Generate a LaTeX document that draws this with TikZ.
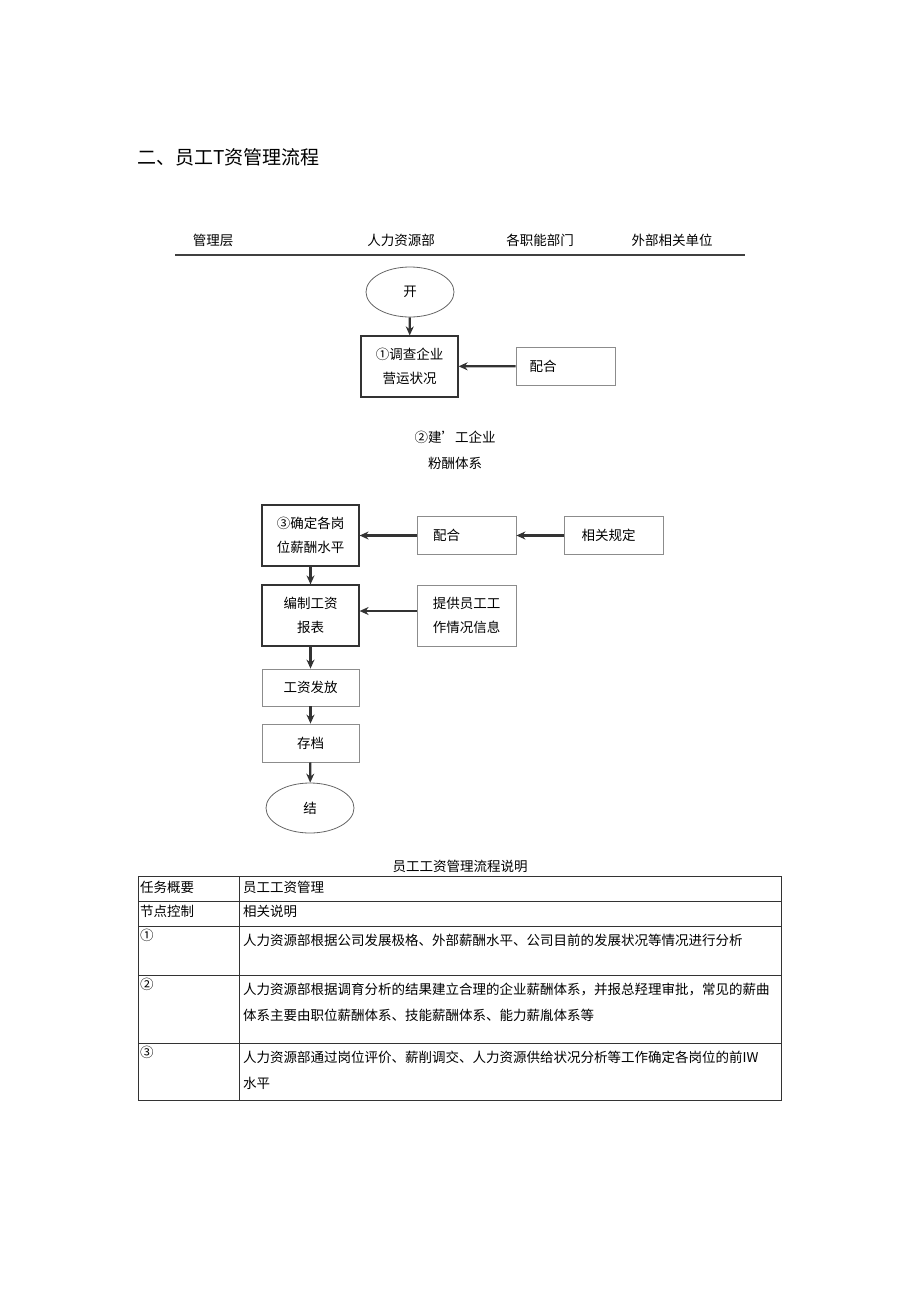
\documentclass[tikz,border=0pt]{standalone}
\usepackage{fontspec}
\setmainfont{Noto Sans CJK SC}
\usetikzlibrary{shapes.geometric,arrows.meta}
\begin{document}
\begin{tikzpicture}[x=1pt,y=-1pt,
  box/.style={draw=black!80,line width=1.2pt,minimum width=97pt,minimum height=61pt,align=center,font=\fontsize{13.5}{24}\selectfont,inner sep=0pt},
  lbox/.style={draw=black!45,line width=0.8pt,minimum width=99pt,minimum height=38pt,align=center,font=\fontsize{13.5}{24}\selectfont,inner sep=0pt},
  oval/.style={ellipse,draw=black!60,line width=0.8pt,minimum width=88pt,minimum height=50pt,font=\fontsize{13.5}{16}\selectfont},
  arr/.style={-{Stealth[length=9pt,width=8pt]},line width=2.2pt,black!80},
  txt/.style={font=\fontsize{13.5}{16}\selectfont,inner sep=0pt},
  cell/.style={font=\fontsize{13.5}{26}\selectfont,inner sep=0pt,anchor=north west,align=left}]
\useasboundingbox (0,0) rectangle (920,1301);
\node[anchor=west,font=\fontsize{19}{22}\selectfont,inner sep=0pt] (title) at (137,157) {二、员工T资管理流程};
\node[txt] (h1) at (213,240) {管理层};
\node[txt] (h2) at (401,240) {人力资源部};
\node[txt] (h3) at (540,240) {各职能部门};
\node[txt] (h4) at (672,240) {外部相关单位};
\draw[line width=1.8pt,black!75] (175,255) coordinate (l1) -- (745,255) coordinate (l2);
\node[oval] (start) at (410,292) {开};
\node[box] (b1) at (409.5,366.5) {①调查企业\\营运状况};
\node[lbox] (p1) at (565.5,366) {配合\hspace{45pt}};
\draw[arr] (start) -- (b1);
\draw[arr] (p1) -- (b1);
\node[txt] (t2a) at (455,437) {②建'工企业};
\node[txt] (t2b) at (455,463) {粉酬体系};
\node[box] (b3) at (310.5,535.5) {③确定各岗\\位薪酬水平};
\node[lbox] (p2) at (466.5,535.5) {配合\hspace{40pt}};
\node[lbox] (r) at (613.5,535.5) {相关规定\hspace{10pt}};
\draw[arr] (p2) -- (b3);
\draw[arr] (r) -- (p2);
\node[box] (b4) at (310.5,615.5) {编制工资\\报表};
\node[lbox,minimum height=61pt] (p3) at (466.5,615.5) {提供员工工\\作情况信息};
\draw[arr] (b3) -- (b4);
\draw[arr] (p3.west |- 0,611) coordinate (pa) -- (pa -| b4.east);
\node[lbox,minimum width=97pt,minimum height=37pt] (b5) at (310.5,687.5) {工资发放};
\node[lbox,minimum width=97pt,minimum height=38pt] (b6) at (310.5,743) {存档};
\node[oval] (end) at (310,808) {结};
\draw[arr] (b4) -- (b5);
\draw[arr] (b5) -- (b6);
\draw[arr] (b6) -- (end);
\node[txt] (tt) at (460,866) {员工工资管理流程说明};
\draw[black!80,line width=0.9pt] (138,876) rectangle (781,1100);
\foreach \y in {901,926,975,1043} \draw[black!80,line width=0.9pt] (138,\y) -- (781,\y);
\draw[black!80,line width=0.9pt] (239,876) -- (239,1100);
\node[cell] (c11) at (140,881) {任务概要};
\node[cell] (c12) at (243,881) {员工工资管理};
\node[cell] (c21) at (140,905) {节点控制};
\node[cell] (c22) at (243,905) {相关说明};
\node[cell] (c31) at (140,929) {①};
\node[cell] (c32) at (243,934) {人力资源部根据公司发展极格、外部薪酬水平、公司目前的发展状况等情况进行分析};
\node[cell] (c41) at (140,978) {②};
\node[cell] (c42) at (243,983) {人力资源部根据调育分析的结果建立合理的企业薪酬体系，并报总羟理审批，常见的薪曲\\体系主要由职位薪酬体系、技能薪酬体系、能力薪胤体系等};
\node[cell] (c51) at (140,1046) {③};
\node[cell] (c52) at (243,1051) {人力资源部通过岗位评价、薪削调交、人力资源供给状况分析等工作确定各岗位的前IW\\水平};
\end{tikzpicture}
\end{document}
